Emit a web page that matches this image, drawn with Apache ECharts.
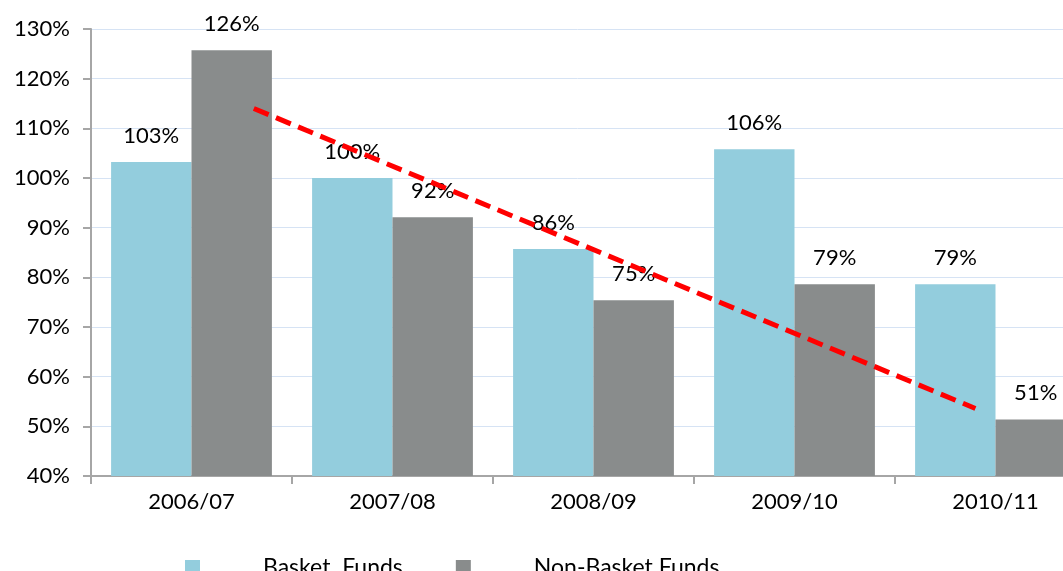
<!DOCTYPE html>
<html>
<head>
<meta charset="utf-8">
<script src="https://cdn.jsdelivr.net/npm/echarts@6/dist/echarts.min.js"></script>
<style>
    html, body { margin: 0; padding: 0; background: #fff; }
    #chart { width: 1063px; height: 571px; }
</style>
</head>
<body>
<div id="chart"></div>
<script>
    // data
    var years = ['2006/07', '2007/08', '2008/09', '2009/10', '2010/11'];
    var basketFunds = [103.2, 100, 85.7, 105.8, 78.6];
    var nonBasketFunds = [125.7, 92.1, 75.4, 78.6, 51.4];
    // trend line ends, x in category units from the left axis
    var trendLine = [[0.81, 114], [4.40, 53.6]];

    var font = 'Lato';
    var chart = echarts.init(document.getElementById('chart'));

    var labelStyle = {
        show: true,
        position: 'top',
        distance: 15,
        fontFamily: font,
        fontSize: 22,
        color: '#000',
        formatter: function (p) { return Math.round(p.value) + '%'; }
    };

    var option = {
        animation: false,
        grid: { left: 91, top: 29, width: 1005, bottom: 95, outerBoundsMode: 'none' },
        legend: {
            left: 180,
            top: 551,
            itemWidth: 15,
            itemHeight: 15,
            itemGap: 53,
            icon: 'rect',
            data: ['Basket  Funds', 'Non-Basket Funds'],
            textStyle: { fontFamily: font, fontSize: 23, color: '#000', padding: [0, 0, 0, 58] }
        },
        xAxis: [{
            type: 'category',
            data: years,
            axisLine: { lineStyle: { color: '#a6a6a6', width: 2 } },
            axisTick: { show: true, length: 8, lineStyle: { color: '#a6a6a6', width: 2 } },
            axisLabel: { margin: 15, fontFamily: font, fontSize: 22, color: '#000' }
        }, {
            type: 'value',
            min: 0,
            max: 5,
            show: false
        }],
        yAxis: {
            type: 'value',
            min: 40,
            max: 130,
            interval: 10,
            axisLine: { show: true, lineStyle: { color: '#a6a6a6', width: 2 } },
            axisTick: { show: true, length: 8, lineStyle: { color: '#a6a6a6', width: 2 } },
            splitLine: { lineStyle: { color: '#d6e3f4', width: 1 } },
            axisLabel: {
                margin: 21,
                fontFamily: font,
                fontSize: 22,
                color: '#000',
                formatter: '{value}%'
            }
        },
        series: [{
            name: 'Basket  Funds',
            type: 'bar',
            data: basketFunds,
            barGap: '0%',
            barCategoryGap: '20%',
            itemStyle: { color: '#93cddd' },
            label: labelStyle
        }, {
            name: 'Non-Basket Funds',
            type: 'bar',
            data: nonBasketFunds,
            barGap: '0%',
            barCategoryGap: '20%',
            itemStyle: { color: '#898c8c' },
            label: labelStyle
        }, {
            name: 'trend',
            type: 'line',
            xAxisIndex: 1,
            data: trendLine,
            symbol: 'none',
            z: 5,
            lineStyle: { color: '#ff0000', width: 5, type: [16, 8] }
        }]
    };
    chart.setOption(option);
</script>
</body>
</html>
